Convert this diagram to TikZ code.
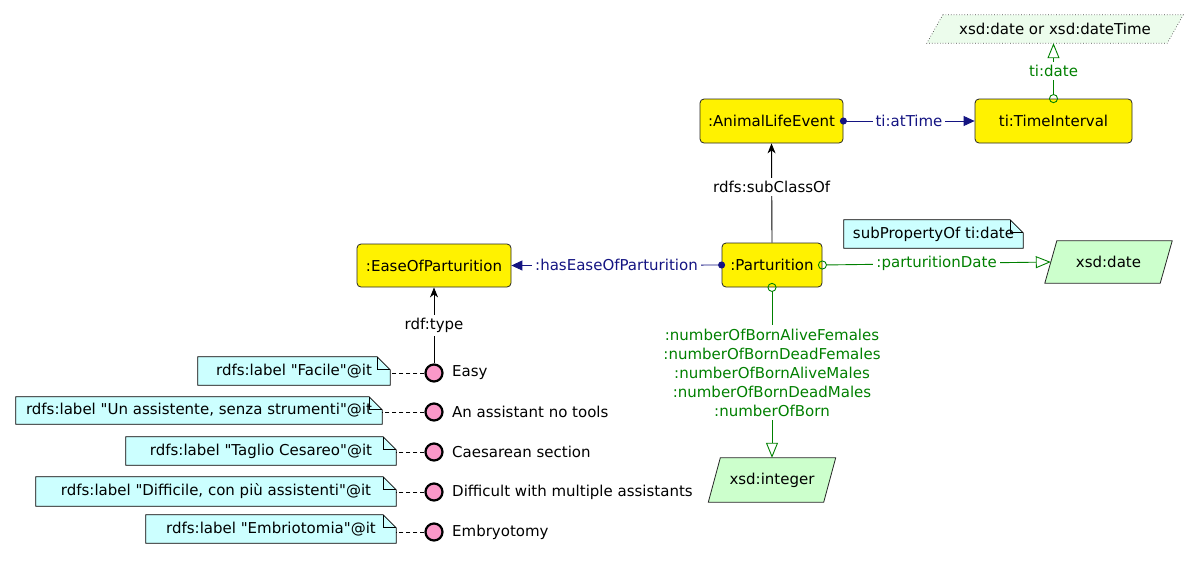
\documentclass[tikz,border=0pt]{standalone}
\usepackage{fontspec}
\setmainfont{DejaVu Sans}[Ligatures=TeXOff]
\usetikzlibrary{arrows.meta,backgrounds,calc}
\definecolor{navyc}{RGB}{20,20,130}
\definecolor{greenc}{RGB}{0,128,0}
\definecolor{pinkc}{RGB}{250,152,200}
\definecolor{notec}{RGB}{204,255,255}
\definecolor{dtc}{RGB}{204,255,204}
\definecolor{dtlight}{RGB}{236,252,236}
\begin{document}
\begin{tikzpicture}[x=1pt,y=-1pt,font=\fontsize{15}{19}\selectfont,
  cls/.style={draw=black!85,fill=yellow,rounded corners=4pt,inner sep=0pt,line width=0.8pt},
  dtbox/.style={inner sep=0pt},
  notebox/.style={inner sep=0pt},
  ind/.style={circle,draw=black,fill=pinkc,line width=2.2pt,minimum size=17pt,inner sep=0pt},
  indlab/.style={anchor=west,inner sep=0pt},
  lab/.style={fill=white,inner sep=3pt},
  objp/.style={color=navyc,line width=0.9pt,{Circle[length=7pt]}-{Triangle[length=11pt,width=10pt]},shorten <=-3.5pt},
  datap/.style={color=greenc,line width=0.9pt,{Circle[open,length=9pt]}-{Triangle[open,length=15pt,width=12pt]},shorten <=-4.5pt},
  subc/.style={color=black,line width=0.9pt,-{Stealth[length=10pt,width=8pt,inset=3pt]}},
  notelink/.style={black,line width=0.8pt,dash pattern=on 4pt off 3pt}
]
\useasboundingbox (0,0) rectangle (1198,560);

% classes
\node[cls,minimum width=143pt,minimum height=44pt] (ale) at (771.5,121) {:AnimalLifeEvent};
\node[cls,minimum width=157pt,minimum height=44pt] (ti) at (1053.5,121) {ti:TimeInterval};
\node[cls,minimum width=100pt,minimum height=44pt] (part) at (772,265) {:Parturition};
\node[cls,minimum width=154pt,minimum height=43pt] (ease) at (434,265.5) {:EaseOfParturition};

% datatypes
\node[dtbox,minimum width=240pt,minimum height=28pt] (xdt) at (1055,29) {xsd:date or xsd:dateTime};
\node[dtbox,minimum width=115pt,minimum height=42pt] (xdate) at (1108.5,262) {xsd:date};
\node[dtbox,minimum width=115pt,minimum height=44pt] (xint) at (772,480) {xsd:integer};

% notes
\node[notebox,minimum width=179pt,minimum height=28pt] (nsp) at (933.5,234) {subPropertyOf ti:date};
\node[notebox,minimum width=192pt,minimum height=28pt] (nf) at (294,371) {rdfs:label "Facile"@it};
\node[notebox,minimum width=366pt,minimum height=27pt] (nu) at (199,410.5) {rdfs:label "Un assistente, senza strumenti"@it};
\node[notebox,minimum width=270pt,minimum height=28pt] (nt) at (261,451) {rdfs:label "Taglio Cesareo"@it};
\node[notebox,minimum width=360pt,minimum height=29pt] (nd) at (216,491.5) {rdfs:label "Difficile, con più assistenti"@it};
\node[notebox,minimum width=250pt,minimum height=28pt] (ne) at (271,529) {rdfs:label "Embriotomia"@it};

% individuals
\node[ind] (i1) at (434,373) {};
\node[ind] (i2) at (434,412) {};
\node[ind] (i3) at (434,452) {};
\node[ind] (i4) at (434,492) {};
\node[ind] (i5) at (434,532) {};
\node[indlab] (l1) at (452,373) {Easy};
\node[indlab] (l2) at (452,412) {An assistant no tools};
\node[indlab] (l3) at (452,452) {Caesarean section};
\node[indlab] (l4) at (452,492) {Difficult with multiple assistants};
\node[indlab] (l5) at (452,532) {Embryotomy};

\begin{scope}[on background layer]
  \draw[black!70,fill=dtlight,line width=0.7pt,dotted]
    ([xshift=8pt]xdt.north west) -- ([xshift=8pt]xdt.north east) --
    ([xshift=-8pt]xdt.south east) -- ([xshift=-8pt]xdt.south west) -- cycle;
  \foreach \d in {xdate,xint}{
    \draw[black!85,fill=dtc,line width=0.8pt]
      ([xshift=6pt]\d.north west) -- ([xshift=6pt]\d.north east) --
      ([xshift=-6pt]\d.south east) -- ([xshift=-6pt]\d.south west) -- cycle;
  }
  \foreach \n in {nsp,nf,nu,nt,nd,ne}{
    \draw[black,fill=notec,line width=0.7pt]
      (\n.south west) -- (\n.north west) -- ([xshift=-13pt]\n.north east) --
      ([yshift=-13pt]\n.north east) -- (\n.south east) -- cycle;
    \draw[black,line width=0.7pt] ([xshift=-13pt]\n.north east) |- ([yshift=-13pt]\n.north east);
  }
\end{scope}

% connectors
\draw[objp] (ale.east) -- node[lab] {ti:atTime} (ti.west);
\draw[objp] (part.west) -- node[lab] {:hasEaseOfParturition} (ease.east);
\draw[subc] (part.north) -- node[lab,pos=0.56] {rdfs:subClassOf} (ale.south);
\draw[datap] (ti.north) -- node[lab] {ti:date} (ti.north |- xdt.south);
\draw[datap] (part.east) -- node[lab] {:parturitionDate} (xdate.west);
\draw[datap] (part.south) -- node[lab,align=center,inner sep=4pt] {:numberOfBornAliveFemales\\:numberOfBornDeadFemales\\:numberOfBornAliveMales\\:numberOfBornDeadMales\\:numberOfBorn} (xint.north);
\draw[subc] (i1.north) -- node[lab] {rdf:type} (ease.south);

% note links
\draw[notelink] (i1.west) -- (i1.west -| nf.east);
\draw[notelink] (i2.west) -- (i2.west -| nu.east);
\draw[notelink] (i3.west) -- (i3.west -| nt.east);
\draw[notelink] (i4.west) -- (i4.west -| nd.east);
\draw[notelink] (i5.west) -- (i5.west -| ne.east);
\end{tikzpicture}
\end{document}
